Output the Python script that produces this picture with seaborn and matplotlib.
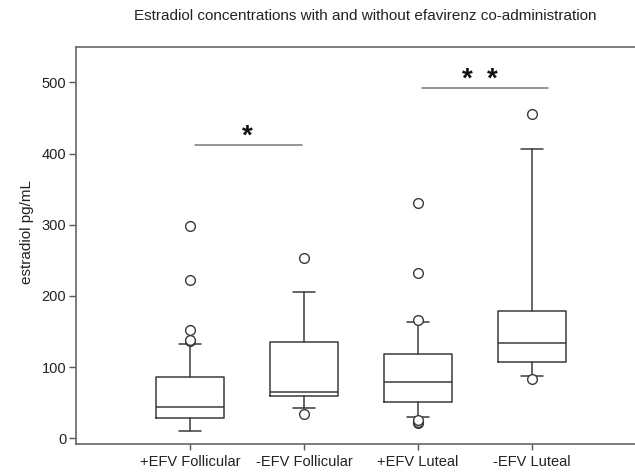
import matplotlib
matplotlib.use("Agg")
import matplotlib.pyplot as plt
import seaborn as sns

categories = ["+EFV Follicular", "-EFV Follicular", "+EFV Luteal", "-EFV Luteal"]
whisker_low = [10, 43, 30, 87.5]
q1 = [28, 60, 51, 106.5]
median = [44, 65.5, 79, 134]
q3 = [86.5, 135, 118, 179]
whisker_high = [132, 205.5, 163, 406]
outliers = [
    [136, 138, 152, 222, 298],
    [33.5, 253.5],
    [21, 23, 26, 166, 232, 331],
    [83, 456],
]
yticks = [0, 100, 200, 300, 400, 500]

sns.set_style("white")
plt.rcParams["font.family"] = ["Liberation Sans", "DejaVu Sans"]

fig = plt.figure(figsize=(6.35, 4.74), dpi=100)
ax = fig.add_axes([76 / 635, 30 / 474, 570 / 635, 397 / 474])

stats = []
for i, c in enumerate(categories):
    stats.append(dict(label=c, whislo=whisker_low[i], q1=q1[i], med=median[i],
                      q3=q3[i], whishi=whisker_high[i], fliers=outliers[i]))

line_col = "#3a3a3a"
ax.bxp(stats, positions=range(len(categories)), widths=0.6, capwidths=0.2,
       boxprops=dict(color=line_col, linewidth=1.1),
       whiskerprops=dict(color=line_col, linewidth=1.1),
       capprops=dict(color=line_col, linewidth=1.1),
       medianprops=dict(color=line_col, linewidth=1.1),
       flierprops=dict(marker="o", markersize=7, markerfacecolor="white",
                       markeredgecolor=line_col, markeredgewidth=1.0))

ax.set_xlim(-1, 4)
ax.set_ylim(-8, 549.7)
ax.set_yticks(yticks)
ax.set_xticks(range(len(categories)))
ax.set_xticklabels(categories, fontsize=10.5, color="#222222")
ax.tick_params(axis="y", labelsize=10.5, labelcolor="#222222", length=5, width=1,
               color="#555555", left=True, pad=2)
ax.tick_params(axis="x", length=4, width=1, color="#555555", bottom=True, pad=4)
ax.set_ylabel("estradiol pg/mL", fontsize=11, color="#222222")
ax.yaxis.set_label_coords(-0.074, 0.534)

for side in ["top", "left", "bottom", "right"]:
    ax.spines[side].set_color("#666666")
    ax.spines[side].set_linewidth(1.2)

# significance bars
ax.plot([0.04, 0.98], [411.6, 411.6], color="#777777", linewidth=1.1)
ax.text(0.5, 406, "*", ha="center", va="bottom", fontsize=20, fontweight="bold", color="#111111")
ax.plot([2.035, 3.14], [492.4, 492.4], color="#777777", linewidth=1.1)
ax.text(2.43, 486, "*", ha="center", va="bottom", fontsize=20, fontweight="bold", color="#111111")
ax.text(2.65, 486, "*", ha="center", va="bottom", fontsize=20, fontweight="bold", color="#111111")

fig.text(365 / 635, 1 - 16 / 474, "Estradiol concentrations with and without efavirenz co-administration",
         ha="center", va="center", fontsize=11, color="#222222")

fig.savefig("out.png", dpi=100)
